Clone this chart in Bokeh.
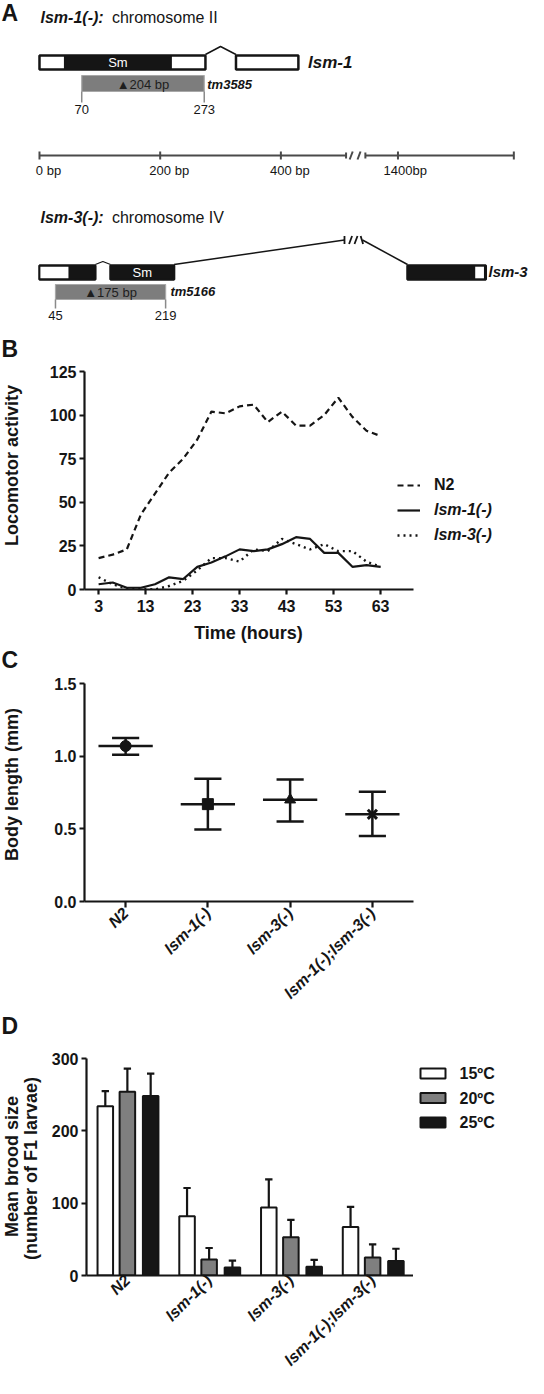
import math
from bokeh.plotting import figure
from bokeh.models import (Range1d, FactorRange, FixedTicker, Legend, LegendItem,
                          ColumnDataSource, NumeralTickFormatter)
from bokeh.transform import dodge
from bokeh.layouts import column, row
from bokeh.core.properties import value
from bokeh.embed import file_html
from bokeh.resources import INLINE

FONT = "Liberation Sans"
INK = "#151515"

# ---------------- DATA ----------------
# Panel A: schematic gene models (schematic base-pair coordinates)
lsm1_exons = [(0, 275), (325.6, 429)]
lsm1_domain = (40.5, 219.4)
lsm1_intron = (275, 300, 325.6)
lsm1_deletion = (70, 273)
lsm1_deletion_ends = ["70", "273"]
lsm1_deletion_text = "\u25B2204 bp"
lsm1_allele = "tm3585"

lsm3_exon1 = (0, 92.5)
lsm3_exon1_utr = (0, 48)
lsm3_caret = (92.5, 105, 117.7)
lsm3_exon2 = (117.7, 223)
lsm3_break = (505.4, 535.2)
lsm3_exon3 = (609.8, 739.5)
lsm3_exon3_utr = (722, 736.5)
lsm3_deletion = (26.5, 209)
lsm3_deletion_ends = ["45", "219"]
lsm3_deletion_text = "\u25B2175 bp"
lsm3_allele = "tm5166"

scale_ticks = [0, 200, 400, 594, 786]
scale_labels = ["0 bp", "200 bp", "400 bp", "1400bp", ""]
scale_break = (508, 540)

# Panel B: locomotor activity
hours = [3, 6, 9, 12, 15, 18, 21, 24, 27, 30, 33, 36, 39, 42, 45, 48, 51, 54, 57, 60, 63]
n2_activity = [18, 20, 23, 43, 55, 67, 75, 86, 102, 101, 105, 106, 96, 102, 94, 94, 100, 110, 99, 91, 88]
lsm1_activity = [3, 4, 1, 1, 3, 7, 6, 13, 15.5, 19, 23, 22, 23, 26, 30, 29, 21, 21, 13, 14, 13]
lsm3_activity = [7, 3, 0.5, 0.5, 0, 2, 5, 11, 18, 18, 16, 23, 22, 29, 26, 23, 26, 22, 22, 16, 13]
b_xticks = [3, 13, 23, 33, 43, 53, 63]
b_yticks = [0, 25, 50, 75, 100, 125]

# Panel C: body length
strains = ["N2", "lsm-1(-)", "lsm-3(-)", "lsm-1(-);lsm-3(-)"]
body_mean = [1.07, 0.67, 0.70, 0.60]
body_low = [1.01, 0.495, 0.55, 0.45]
body_high = [1.125, 0.845, 0.84, 0.755]
c_yticks = [0, 0.5, 1.0, 1.5]

# Panel D: brood size
temps = ["15\u00baC", "20\u00baC", "25\u00baC"]
brood_15 = [234, 82, 94, 67]
brood_15_err = [21, 39, 39, 28]
brood_20 = [254, 22, 53, 25]
brood_20_err = [32, 16, 24, 18]
brood_25 = [248, 11, 12, 20]
brood_25_err = [31, 9.5, 9.5, 17]
d_yticks = [0, 100, 200, 300]

# ---------------- helpers ----------------
FRAME_W = 329


def base_fig(w, h, xr, yr, **kw):
    p = figure(width=w, height=h, x_range=xr, y_range=yr, output_backend="svg",
               toolbar_location=None, title=None, **kw)
    p.grid.visible = False
    p.outline_line_color = None
    p.background_fill_color = "white"
    p.border_fill_color = "white"
    p.frame_align = False
    return p


def strip(w, h, xr=None):
    return base_fig(w, h, xr if xr is not None else Range1d(0, w), Range1d(h, 0),
                    x_axis_type=None, y_axis_type=None, min_border=0)


def style_axes(p):
    for ax in p.axis:
        ax.axis_line_width = 2.2
        ax.axis_line_color = INK
        ax.major_tick_line_width = 2.2
        ax.major_tick_line_color = INK
        ax.major_tick_out = 5
        ax.major_tick_in = 0
        ax.minor_tick_line_color = None
        ax.major_label_text_font = FONT
        ax.major_label_text_font_style = "bold"
        ax.major_label_text_font_size = "16px"
        ax.major_label_text_color = INK
        ax.major_label_standoff = 3


def txt(p, x, y, t, size="13px", style="normal", color=INK, align="left", baseline="middle",
        angle=0.0, x_offset=0):
    p.text(x=[x], y=[y], text=[t], text_font=value(FONT), text_font_size=value(size),
           text_font_style=style, text_color=color, text_align=align, text_baseline=baseline,
           angle=angle, x_offset=x_offset)


# ---------------- PANEL A (page y 8..370) ----------------
fA = strip(528, 362, Range1d(-64.6, 810.3))
txt(fA, -64.6, 12, "A", size="23px", style="bold", x_offset=1)
txt(fA, -64.6, 348.5, "B", size="23px", style="bold", x_offset=1)

g1_top, g1_bot = 55, 69
txt(fA, 1.7, 17, "lsm-1(-):", size="16px", style="bold italic")
txt(fA, 120, 17, "chromosome II", size="16px")
fA.quad(left=[e[0] for e in lsm1_exons], right=[e[1] for e in lsm1_exons],
        top=g1_top, bottom=g1_bot, fill_color="white", line_color=INK, line_width=2.5)
fA.quad(left=[lsm1_domain[0]], right=[lsm1_domain[1]], top=g1_top, bottom=g1_bot,
        fill_color=INK, line_color=None)
fA.line(x=list(lsm1_intron), y=[g1_top - 1, 46, g1_top - 1], line_color=INK, line_width=1.5)
txt(fA, sum(lsm1_domain) / 2, 62, "Sm", size="13px", color="white", align="center")
txt(fA, 445, 62, "lsm-1", size="17px", style="bold italic")
fA.quad(left=[lsm1_deletion[0]], right=[lsm1_deletion[1]], top=75, bottom=91,
        fill_color="#7d7d7d", line_color="#a8a8a8", line_width=1.2)
fA.segment(x0=list(lsm1_deletion), x1=list(lsm1_deletion), y0=[91, 91], y1=[102, 102],
           line_color="#8a8a8a", line_width=1.5)
txt(fA, sum(lsm1_deletion) / 2, 83.5, lsm1_deletion_text, size="13px", color="#1e1e1e", align="center")
for xx, lab in zip(lsm1_deletion, lsm1_deletion_ends):
    txt(fA, xx, 109, lab, size="13px", align="center")
txt(fA, 278, 84, lsm1_allele, size="13px", style="bold italic")

sy = 155
fA.segment(x0=[scale_ticks[0], scale_break[1]], x1=[scale_break[0], scale_ticks[-1]],
           y0=[sy, sy], y1=[sy, sy], line_color="#4a4a4a", line_width=2)
fA.segment(x0=scale_ticks, x1=scale_ticks, y0=[sy - 4] * len(scale_ticks),
           y1=[sy + 4] * len(scale_ticks), line_color="#4a4a4a", line_width=2)
fA.segment(x0=[scale_break[0], scale_break[1]], x1=[scale_break[0], scale_break[1]],
           y0=[sy - 3, sy - 3], y1=[sy + 3, sy + 3], line_color="#4a4a4a", line_width=2)
fA.segment(x0=[514, 527], x1=[519, 532], y0=[sy + 4, sy + 4], y1=[sy - 4, sy - 4],
           line_color="#4a4a4a", line_width=2)
for xx, lab in zip(scale_ticks, scale_labels):
    if lab:
        digits = len(lab.replace("bp", "").strip())
        fA.text(x=[xx], y=[169.5], text=[lab], text_font=value(FONT), text_font_size=value("13px"),
                text_color=INK, text_align="left", text_baseline="middle",
                x_offset=-digits * 0.556 * 13 / 2)

g2_top, g2_bot = 265, 279
txt(fA, 1.7, 217, "lsm-3(-):", size="16px", style="bold italic")
txt(fA, 120, 217, "chromosome IV", size="16px")
fA.quad(left=[lsm3_exon1[0], lsm3_exon2[0], lsm3_exon3[0]],
        right=[lsm3_exon1[1], lsm3_exon2[1], lsm3_exon3[1]],
        top=g2_top, bottom=g2_bot, fill_color=INK, line_color=INK, line_width=2.5)
fA.quad(left=[lsm3_exon1_utr[0] + 1.5, lsm3_exon3_utr[0]], right=[lsm3_exon1_utr[1], lsm3_exon3_utr[1]],
        top=g2_top + 1.2, bottom=g2_bot - 1.2, fill_color="white", line_color=None)
fA.line(x=list(lsm3_caret), y=[g2_top - 1, 261, g2_top - 1], line_color=INK, line_width=1.2)
fA.line(x=[lsm3_exon2[1], lsm3_break[0]], y=[g2_top - 1, 239.5], line_color=INK, line_width=1.5)
fA.line(x=[lsm3_break[1], lsm3_exon3[0]], y=[239.5, g2_top - 1], line_color=INK, line_width=1.5)
fA.segment(x0=[lsm3_break[0], 513, 522, lsm3_break[1] - 3],
           x1=[lsm3_break[0], 518, 527, lsm3_break[1] + 1],
           y0=[235.5, 243.5, 243.5, 235.5], y1=[243.5, 235.5, 235.5, 243.5],
           line_color=INK, line_width=1.8)
txt(fA, sum(lsm3_exon2) / 2, 272, "Sm", size="13px", color="white", align="center")
txt(fA, 744, 271, "lsm-3", size="15px", style="bold italic")
fA.quad(left=[lsm3_deletion[0]], right=[lsm3_deletion[1]], top=284, bottom=299,
        fill_color="#7d7d7d", line_color="#a8a8a8", line_width=1.2)
fA.segment(x0=list(lsm3_deletion), x1=list(lsm3_deletion), y0=[299, 299], y1=[308, 308],
           line_color="#8a8a8a", line_width=1.5)
txt(fA, sum(lsm3_deletion) / 2, 292, lsm3_deletion_text, size="13px", color="#1e1e1e", align="center")
for xx, lab in zip(lsm3_deletion, lsm3_deletion_ends):
    txt(fA, xx, 315, lab, size="13px", align="center")
txt(fA, 217, 291, lsm3_allele, size="13px", style="bold italic")

# ---------------- PANEL B (page y 370..627) ----------------
B_H = 257
px_per_h = FRAME_W / 70.0
fB = base_fig(498, B_H, Range1d(0, 444 / px_per_h), Range1d(0, 125),
              min_border_left=54, min_border_right=0, min_border_top=9, min_border_bottom=30)
rN2 = fB.line(hours, n2_activity, line_color=INK, line_width=2.2, line_dash="6 4")
r1 = fB.line(hours, lsm1_activity, line_color=INK, line_width=2.2)
r3 = fB.line(hours, lsm3_activity, line_color=INK, line_width=2.4, line_dash="2 4")
fB.xaxis.ticker = FixedTicker(ticks=b_xticks)
fB.yaxis.ticker = FixedTicker(ticks=b_yticks)
style_axes(fB)
fB.xaxis.bounds = (0, 70)
fB.xaxis.major_label_standoff = 5

leg_kw = dict(glyph_width=23, glyph_height=20, label_height=20, label_standoff=14, spacing=5,
              padding=0, margin=0, border_line_color=None, background_fill_alpha=0,
              label_text_font=FONT, label_text_font_size="16px", label_text_color=INK)
legB1 = Legend(items=[LegendItem(label="N2", renderers=[rN2])], location=(313, 94),
               label_text_font_style="bold", **leg_kw)
legB2 = Legend(items=[LegendItem(label=strains[1], renderers=[r1]),
                      LegendItem(label=strains[2], renderers=[r3])], location=(313, 44),
               label_text_font_style="bold italic", **leg_kw)
fB.add_layout(legB1)
fB.add_layout(legB2)

sLB = strip(30, B_H)
txt(sLB, 11, 103, "Locomotor activity", size="18px", style="bold", align="center", angle=math.pi / 2)

# ---------------- strip: Time (hours) + C (page y 627..680) ----------------
sC = strip(528, 53)
txt(sC, 248, 13, "Time (hours)", size="18px", style="bold", align="center")
txt(sC, 0, 40.5, "C", size="23px", style="bold", x_offset=1)

# ---------------- PANEL C (page y 680..1021) ----------------
C_H = 341
fC = base_fig(498, C_H, FactorRange(*strains), Range1d(0, 1.5),
              min_border_left=54, min_border_right=115, min_border_top=11, min_border_bottom=112)
style_axes(fC)
fC.yaxis.ticker = FixedTicker(ticks=c_yticks)
fC.yaxis.formatter = NumeralTickFormatter(format="0.0")
fC.xaxis.major_tick_out = 6
fC.xaxis.major_label_orientation = math.pi / 4
fC.xaxis.major_label_text_font_style = "bold italic"
fC.xaxis.major_label_standoff = 3

srcC = ColumnDataSource(dict(strain=strains, mean=body_mean, low=body_low, high=body_high))
fC.segment(x0="strain", x1="strain", y0="low", y1="high", source=srcC, line_color=INK, line_width=2.5)
for yk in ("low", "high"):
    fC.segment(x0=dodge("strain", -0.165, range=fC.x_range), x1=dodge("strain", 0.165, range=fC.x_range),
               y0=yk, y1=yk, source=srcC, line_color=INK, line_width=2.5)
fC.segment(x0=dodge("strain", -0.33, range=fC.x_range), x1=dodge("strain", 0.33, range=fC.x_range),
           y0="mean", y1="mean", source=srcC, line_color=INK, line_width=2.5)
markers = ["circle", "square", "triangle", "x"]
for i, m in enumerate(markers):
    if m == "x":
        fC.scatter(x=[strains[i]], y=[body_mean[i]], marker=m, size=13, line_color=INK, line_width=3)
    else:
        fC.scatter(x=[strains[i]], y=[body_mean[i]], marker=m, size=11, fill_color=INK,
                   line_color=INK, line_width=1)

sLC = strip(30, C_H)
txt(sLC, 11, 112, "Body length (mm)", size="18px", style="bold", align="center", angle=math.pi / 2)

# ---------------- strip: D letter (page y 1021..1055) ----------------
sD = strip(528, 34)
txt(sD, 0, 12.5, "D", size="23px", style="bold", x_offset=1)

# ---------------- PANEL D (page y 1055..1386) ----------------
D_H = 331
fD = base_fig(365, D_H, FactorRange(*strains), Range1d(0, 300),
              min_border_left=36, min_border_right=0, min_border_top=11, min_border_bottom=102)
style_axes(fD)
fD.yaxis.ticker = FixedTicker(ticks=d_yticks)
fD.xaxis.major_tick_line_color = None
fD.xaxis.major_tick_out = 0
fD.xaxis.major_label_orientation = math.pi / 4
fD.xaxis.major_label_text_font_style = "bold italic"
fD.xaxis.major_label_standoff = 2

srcD = ColumnDataSource(dict(
    strain=strains,
    b15=brood_15, h15=[m + e for m, e in zip(brood_15, brood_15_err)],
    b20=brood_20, h20=[m + e for m, e in zip(brood_20, brood_20_err)],
    b25=brood_25, h25=[m + e for m, e in zip(brood_25, brood_25_err)],
))
bar_colors = ["white", "#7f7f7f", "#161616"]
bar_specs = [("b15", "h15", -0.27), ("b20", "h20", 0.0), ("b25", "h25", 0.285)]
for (key, hk, off), col in zip(bar_specs, bar_colors):
    fD.segment(x0=dodge("strain", off, range=fD.x_range), x1=dodge("strain", off, range=fD.x_range),
               y0=key, y1=hk, source=srcD, line_color=INK, line_width=2.2)
    fD.segment(x0=dodge("strain", off - 0.045, range=fD.x_range), x1=dodge("strain", off + 0.045, range=fD.x_range),
               y0=hk, y1=hk, source=srcD, line_color=INK, line_width=2.2)
    fD.vbar(x=dodge("strain", off, range=fD.x_range), top=key, bottom=0, width=0.19, source=srcD,
            fill_color=col, line_color=INK, line_width=2)

sLD = strip(48, D_H)
txt(sLD, 11, 119, "Mean brood size", size="18px", style="bold", align="center", angle=math.pi / 2)
txt(sLD, 30, 121, "(number of F1 larvae)", size="18px", style="bold", align="center", angle=math.pi / 2)

# legend for panel D (drawn beside the plot frame)
sLegD = strip(115, D_H)
leg_rows = [26, 50.5, 75]
sLegD.quad(left=7, right=32, top=[r - 5 for r in leg_rows], bottom=[r + 5 for r in leg_rows],
           fill_color=bar_colors, line_color=INK, line_width=2)
sLegD.text(x=[46] * 3, y=leg_rows, text=temps, text_font=value(FONT), text_font_size=value("16px"),
           text_font_style="bold", text_color=INK, text_align="left", text_baseline="middle")

layout = column(fA, row(sLB, fB), sC, row(sLC, fC), sD, row(sLD, fD, sLegD), spacing=0)
open("out.html", "w").write(file_html(layout, INLINE))
